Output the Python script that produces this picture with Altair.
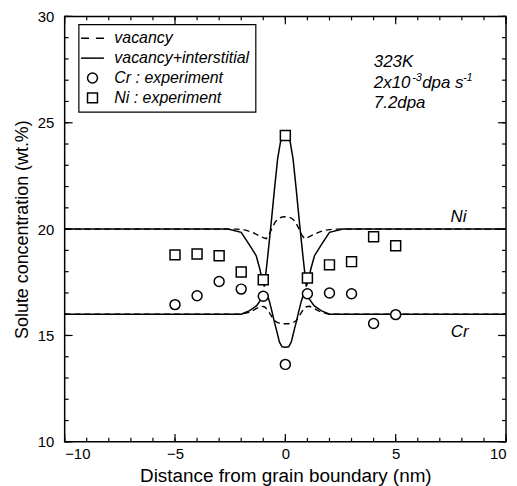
import altair as alt
import pandas as pd

FONT = "Liberation Sans"
W, H = 444, 428

# ---- model curves ----
ni_solid_x = [-10, -2.6, -2.0, -1.62, -1.32, -1.15, -1.05, -0.95, -0.8, -0.65, -0.5, -0.35, -0.22, -0.1, 0,
              0.1, 0.22, 0.35, 0.5, 0.65, 0.8, 0.95, 1.05, 1.15, 1.32, 1.62, 2.0, 2.6, 10]
ni_solid_y = [20.0, 20.0, 19.85, 19.25, 18.75, 18.1, 17.6, 17.3, 18.7, 20.2, 21.8, 23.3, 24.1, 24.35, 24.4,
              24.35, 24.1, 23.3, 21.8, 20.2, 18.7, 17.3, 17.6, 18.1, 18.75, 19.25, 19.85, 20.0, 20.0]

cr_solid_x = [-10, -2.0, -1.62, -1.3, -1.1, -1.0, -0.9, -0.8, -0.72, -0.6, -0.5, -0.4, -0.27, -0.15, 0,
              0.15, 0.27, 0.4, 0.5, 0.6, 0.72, 0.8, 0.9, 1.0, 1.1, 1.3, 1.62, 2.0, 10]
cr_solid_y = [16.0, 16.0, 16.17, 16.4, 16.7, 16.85, 16.9, 16.85, 16.6, 16.1, 15.65, 15.25, 14.7, 14.47, 14.45,
              14.47, 14.7, 15.25, 15.65, 16.1, 16.6, 16.85, 16.9, 16.85, 16.7, 16.4, 16.17, 16.0, 16.0]

ni_dash_x = [-10, -2.2, -1.8, -1.5, -1.2, -1.0, -0.87, -0.75, -0.6, -0.45, -0.3, -0.15, 0,
             0.15, 0.3, 0.45, 0.6, 0.75, 0.87, 1.0, 1.2, 1.5, 1.8, 2.2, 10]
ni_dash_y = [20.0, 20.0, 19.95, 19.85, 19.7, 19.6, 19.55, 19.72, 20.05, 20.35, 20.5, 20.57, 20.58,
             20.57, 20.5, 20.35, 20.05, 19.72, 19.55, 19.6, 19.7, 19.85, 19.95, 20.0, 20.0]

cr_dash_x = [-10, -2.0, -1.6, -1.3, -1.1, -0.95, -0.8, -0.65, -0.5, -0.35, -0.15, 0,
             0.15, 0.35, 0.5, 0.65, 0.8, 0.95, 1.1, 1.3, 1.6, 2.0, 10]
cr_dash_y = [16.0, 16.0, 16.1, 16.27, 16.37, 16.35, 16.2, 15.95, 15.7, 15.6, 15.55, 15.55,
             15.55, 15.6, 15.7, 15.95, 16.2, 16.35, 16.37, 16.27, 16.1, 16.0, 16.0]

# ---- experiment points ----
exp_x = [-5, -4, -3, -2, -1, 0, 1, 2, 3, 4, 5]
cr_exp = [16.45, 16.87, 17.54, 17.18, 16.84, 13.64, 16.96, 17.0, 16.96, 15.56, 15.98]
ni_exp = [18.79, 18.83, 18.75, 17.98, 17.62, 24.4, 17.7, 18.32, 18.47, 19.64, 19.22]

legend_items = ["vacancy", "vacancy+interstitial", "Cr : experiment", "Ni : experiment"]
legend_shapes = ["M-2.3,0H-0.7M0.7,0H2.3", "M-2.3,0H2.3", "circle", "square"]

# ---- annotation text ----
ann_text = ["323K", "2x10", "-3", "dpa s", "-1", "7.2dpa"]
ann_x = [4.01, 4.01, 5.75, 6.2, 8.05, 4.01]
ann_y = [27.62, 26.64, 26.97, 26.64, 26.97, 25.70]
ann_size = [17, 17, 11, 17, 11, 17]

elem_text = ["Ni", "Cr"]
elem_x = [7.85, 7.9]
elem_y = [20.33, 14.95]

# ---- ticks ----
x_major = [-10, -5, 0, 5, 10]
x_minor = list(range(-10, 11))
y_major = [10, 15, 20, 25, 30]
y_minor = list(range(10, 31))

xs = alt.Scale(domain=[-10, 10], nice=False, zero=False)
ys = alt.Scale(domain=[10, 30], nice=False, zero=False)

# one axis definition per channel, shared by every layer so they merge cleanly
XAX = alt.Axis(orient="bottom", values=x_major, ticks=False, domain=False, grid=False,
               labelPadding=5, titlePadding=5, title="Distance from grain boundary (nm)",
               titleFontSize=19)
YAX = alt.Axis(orient="left", values=y_major, ticks=False, domain=False, grid=False,
               labelPadding=11, titlePadding=6, title="Solute concentration (wt.%)")


def X(field):
    return alt.X(field, scale=xs, axis=XAX)


def Y(field):
    return alt.Y(field, scale=ys, axis=YAX)


def curve_df(xv, yv, name):
    return pd.DataFrame({"x": xv, "y": yv, "curve": name})


solid_df = pd.concat([curve_df(ni_solid_x, ni_solid_y, "Ni"), curve_df(cr_solid_x, cr_solid_y, "Cr")])
dash_df = pd.concat([curve_df(ni_dash_x, ni_dash_y, "Ni"), curve_df(cr_dash_x, cr_dash_y, "Cr")])

pts_df = pd.concat([
    pd.DataFrame({"x": exp_x, "y": cr_exp, "kind": "Cr : experiment"}),
    pd.DataFrame({"x": exp_x, "y": ni_exp, "kind": "Ni : experiment"}),
])

ann_df = pd.DataFrame({"x": ann_x, "y": ann_y, "t": ann_text, "s": ann_size})
elem_df = pd.DataFrame({"x": elem_x, "y": elem_y, "t": elem_text})

solid = alt.Chart(solid_df).mark_line(color="black", strokeWidth=1.5).encode(
    x=X("x:Q"), y=Y("y:Q"), detail="curve:N",
)

dashed = alt.Chart(dash_df).mark_line(color="black", strokeWidth=1.4, strokeDash=[6, 4]).encode(
    x=X("x:Q"), y=Y("y:Q"), detail="curve:N",
)

# white interiors under the markers
backing = alt.Chart(pts_df).mark_point(filled=True, color="white", size=100, opacity=1).encode(
    x=X("x:Q"), y=Y("y:Q"),
    shape=alt.Shape("kind:N", scale=alt.Scale(domain=legend_items, range=legend_shapes), legend=None),
)

points = alt.Chart(pts_df).mark_point(filled=False, color="black",
                                      strokeWidth=1.5, size=100, opacity=1).encode(
    x=X("x:Q"), y=Y("y:Q"),
    shape=alt.Shape("kind:N", scale=alt.Scale(domain=legend_items, range=legend_shapes),
                    legend=alt.Legend(title=None, orient="none", legendX=14, legendY=8,
                                      strokeColor="black", fillColor="white", padding=6,
                                      labelFontSize=16, labelFontStyle="italic", labelFont=FONT,
                                      labelColor="black", symbolSize=100, symbolStrokeWidth=1.5,
                                      symbolStrokeColor="black",
                                      rowPadding=4, labelOffset=14)),
)

ann = alt.Chart(ann_df).mark_text(align="left", baseline="alphabetic", fontStyle="italic",
                                   color="black", font=FONT).encode(
    x=X("x:Q"), y=Y("y:Q"),
    text="t:N",
    size=alt.Size("s:Q", scale=None, legend=None),
)

elem = alt.Chart(elem_df).mark_text(align="center", baseline="alphabetic", fontStyle="italic",
                                    fontSize=17, color="black", font=FONT).encode(
    x=X("x:Q"), y=Y("y:Q"), text="t:N",
)


# inward ticks on all four sides, placed through the scales
def xticks(values, length, side):
    pos = length / 2 if side == "top" else H - length / 2
    return alt.Chart(pd.DataFrame({"x": values})).mark_tick(
        orient="vertical", size=length, thickness=1.2, color="black", opacity=1
    ).encode(x=X("x:Q"), y=alt.value(pos))


def yticks(values, length, side):
    pos = length / 2 if side == "left" else W - length / 2
    return alt.Chart(pd.DataFrame({"y": values})).mark_tick(
        orient="horizontal", size=length, thickness=1.2, color="black", opacity=1
    ).encode(y=Y("y:Q"), x=alt.value(pos))


ticks = [
    xticks(x_minor, 4, "top"), xticks(x_major, 8, "top"),
    xticks(x_minor, 4, "bottom"), xticks(x_major, 8, "bottom"),
    yticks(y_minor, 4, "left"), yticks(y_major, 8, "left"),
    yticks(y_minor, 4, "right"), yticks(y_major, 8, "right"),
]

chart = alt.layer(solid, dashed, backing, points, ann, elem, *ticks).resolve_scale(
    x="shared", y="shared"
).resolve_legend(shape="independent").properties(
    width=W, height=H,
    padding={"left": 5, "top": 0, "right": 0, "bottom": 0},
).configure_view(stroke="black", strokeWidth=1.5).configure_axis(
    labelFont=FONT, titleFont=FONT, labelFontSize=15, titleFontSize=18,
    titleFontWeight="normal", labelColor="black", titleColor="black",
).configure_legend(strokeWidth=1.2)

chart.save("out.html", embed_options={"renderer": "svg", "actions": False})
